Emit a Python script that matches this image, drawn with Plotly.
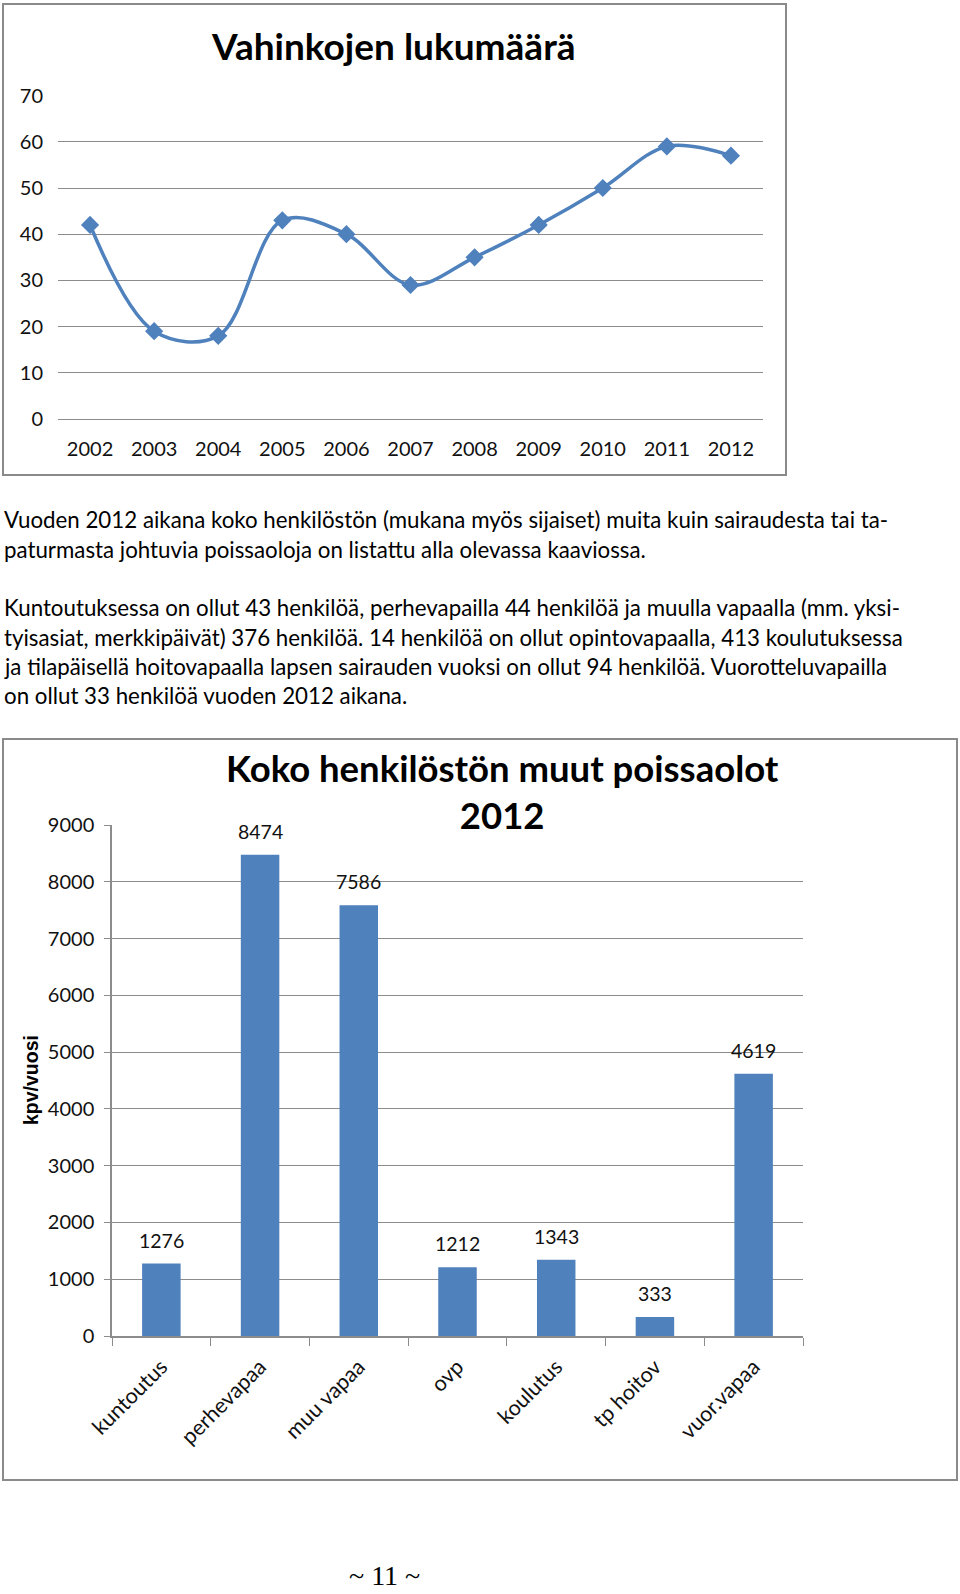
import plotly.graph_objects as go

W, H = 960, 1594

# ---- data ----
years = ["2002", "2003", "2004", "2005", "2006", "2007", "2008", "2009", "2010", "2011", "2012"]
damages = [42, 19, 18, 43, 40, 29, 35, 42, 50, 59, 57]

categories = ["kuntoutus", "perhevapaa", "muu vapaa", "ovp", "koulutus", "tp hoitov", "vuor.vapaa"]
absences = [1276, 8474, 7586, 1212, 1343, 333, 4619]

title1 = "Vahinkojen lukumäärä"
title2 = "Koko henkilöstön muut poissaolot<br>2012"
ytitle2 = "kpv/vuosi"
paragraphs = [
    "Vuoden 2012 aikana koko henkilöstön (mukana myös sijaiset) muita kuin sairaudesta tai ta-",
    "paturmasta johtuvia poissaoloja on listattu alla olevassa kaaviossa.",
    "Kuntoutuksessa on ollut 43 henkilöä, perhevapailla 44 henkilöä ja muulla vapaalla (mm. yksi-",
    "tyisasiat, merkkipäivät) 376 henkilöä. 14 henkilöä on ollut opintovapaalla, 413 koulutuksessa",
    "ja tilapäisellä hoitovapaalla lapsen sairauden vuoksi on ollut 94 henkilöä. Vuorotteluvapailla",
    "on ollut 33 henkilöä vuoden 2012 aikana.",
]
page_no = "~ 11 ~"

# ---- helpers ----
def px(x):
    return x / W

def py(y):
    return 1 - y / H

BLUE = "#4F81BD"
GRID = "#8C8C8C"
FONT = "Lato"

fig = go.Figure()

fig.add_trace(go.Scatter(
    x=years, y=damages, mode="lines+markers",
    line=dict(color=BLUE, width=3.5, shape="spline", smoothing=1.0),
    marker=dict(symbol="diamond", size=14, color=BLUE),
    xaxis="x", yaxis="y", showlegend=False, cliponaxis=False,
))

fig.add_trace(go.Bar(
    x=categories, y=absences, marker=dict(color=BLUE, line=dict(width=0)),
    width=0.39, xaxis="x2", yaxis="y2", showlegend=False,
))

annotations = []
# bar value labels
for c, v in zip(categories, absences):
    annotations.append(dict(
        x=c, y=v, xref="x2", yref="y2", text=str(v), showarrow=False,
        yanchor="bottom", yshift=10, font=dict(family=FONT, size=19.5, color="#111111"),
    ))

# titles
annotations.append(dict(x=px(393), y=py(46), xref="paper", yref="paper", text="<b>" + title1 + "</b>",
                        showarrow=False, xanchor="center", yanchor="middle",
                        font=dict(family=FONT, size=37, color="#000000")))
annotations.append(dict(x=px(502), y=py(791), xref="paper", yref="paper", text="<b>" + title2 + "</b>",
                        showarrow=False, xanchor="center", yanchor="middle",
                        font=dict(family=FONT, size=36.5, color="#000000")))
annotations.append(dict(x=px(31), y=py(1080), xref="paper", yref="paper", text="<b>" + ytitle2 + "</b>",
                        showarrow=False, textangle=-90, xanchor="center", yanchor="middle",
                        font=dict(family="Liberation Sans", size=19.5, color="#000000")))

# paragraphs
para_y = [520, 549, 607, 637, 666, 696]
for t, yy in zip(paragraphs, para_y):
    annotations.append(dict(x=px(2), y=py(yy), xref="paper", yref="paper", text=t,
                            showarrow=False, xanchor="left", yanchor="middle",
                            font=dict(family=FONT, size=22.3, color="#000000")))

annotations.append(dict(x=px(384), y=py(1575), xref="paper", yref="paper", text=page_no,
                        showarrow=False, xanchor="center", yanchor="middle",
                        font=dict(family="Liberation Serif", size=28, color="#000000")))

shapes = [
    dict(type="rect", xref="paper", yref="paper", x0=px(3), x1=px(786), y0=py(475), y1=py(4),
         line=dict(color="#8A8A8A", width=2)),
    dict(type="rect", xref="paper", yref="paper", x0=px(3), x1=px(957), y0=py(1480), y1=py(739),
         line=dict(color="#8A8A8A", width=2)),
]

fig.update_layout(
    width=W, height=H, margin=dict(l=0, r=0, t=0, b=0, autoexpand=False),
    paper_bgcolor="white", plot_bgcolor="white",
    font=dict(family=FONT, size=19, color="#111111"),
    xaxis=dict(domain=[px(58), px(763)], anchor="y", type="category", automargin=False,
               range=[-0.5, len(years) - 0.5],
               showgrid=False, showline=False, ticks="", ticklabelstandoff=16, tickfont=dict(size=20)),
    yaxis=dict(domain=[py(419), py(95.6)], anchor="x", range=[0, 70], dtick=10, automargin=False,
               showgrid=True, gridcolor=GRID, gridwidth=1, zeroline=True, zerolinecolor=GRID,
               zerolinewidth=1, showline=False, ticks="", ticklabelstandoff=14, tickfont=dict(size=20)),
    xaxis2=dict(domain=[px(112), px(803)], anchor="y2", type="category", automargin=False,
                range=[-0.5, len(categories) - 0.5],
                showgrid=False, showline=True, linecolor=GRID, linewidth=1.5,
                ticks="outside", tickson="boundaries", ticklen=8, tickcolor=GRID,
                tickangle=-45, ticklabelstandoff=8, tickfont=dict(size=21.5)),
    yaxis2=dict(domain=[py(1336), py(825)], anchor="x2", range=[0, 9000], dtick=1000, automargin=False,
                showgrid=True, gridcolor=GRID, gridwidth=1, zeroline=False,
                showline=True, linecolor=GRID, linewidth=1.5, ticks="outside", ticklen=6,
                tickcolor=GRID, ticklabelstandoff=6, tickfont=dict(size=20)),
    annotations=annotations, shapes=shapes,
)

fig.write_html("out.html")
